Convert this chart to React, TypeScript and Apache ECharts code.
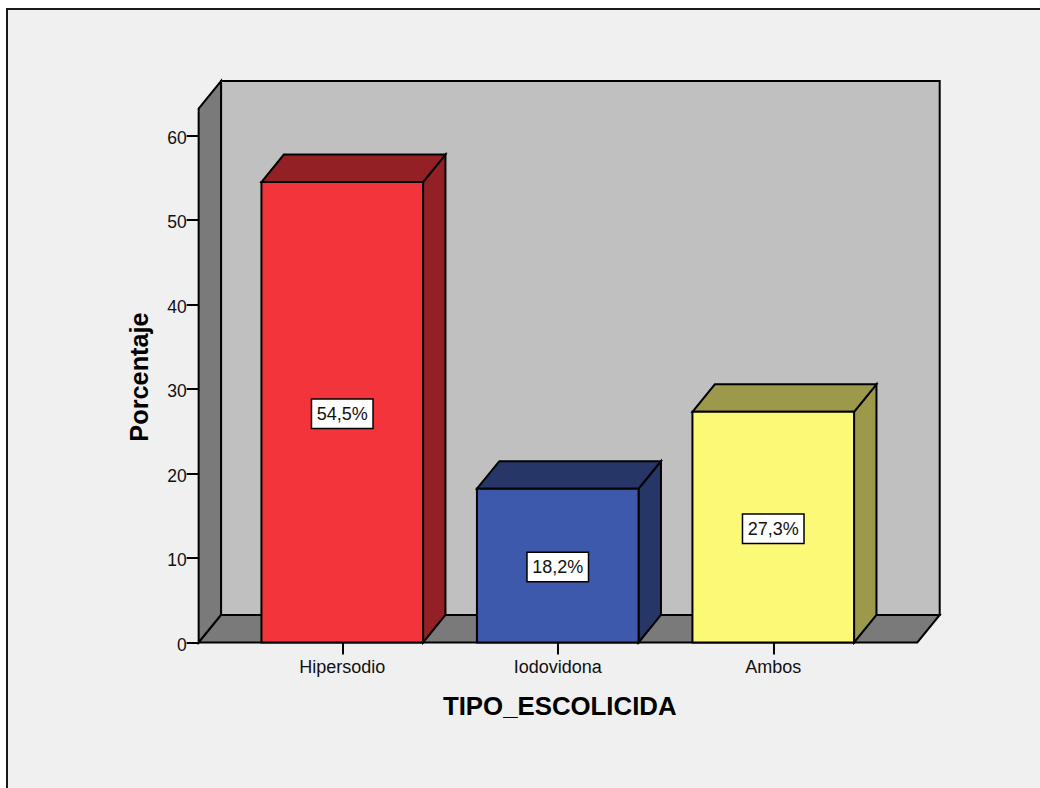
import React, { useEffect, useRef } from "react";
import * as echarts from "echarts";

const categories = ["Hipersodio", "Iodovidona", "Ambos"];
const porcentajes = [54.5, 18.2, 27.3];
const etiquetas = ["54,5%", "18,2%", "27,3%"];
const yTicks = [0, 10, 20, 30, 40, 50, 60];
const frontColors = ["#f3343a", "#3d59ab", "#fcf977"];
const shadeColors = ["#922024", "#253667", "#9c9a4a"];

const FONT = '"Liberation Sans", Arial, sans-serif';
const DX = 22.4;
const DY = 27.5;
const STROKE = "#000000";
const LW = 2;

function renderWalls(params: any, api: any) {
  const cs = params.coordSys;
  const bottom = api.coord([0, 0])[1];
  const top = api.coord([0, 63.2])[1];
  const left = cs.x - 35.85;
  const right = cs.x + cs.width + 36.3;
  const line = { stroke: STROKE, lineWidth: LW, lineJoin: "miter" };
  return {
    type: "group",
    children: [
      {
        type: "polygon",
        shape: { points: [[left + DX, top - DY], [right + DX, top - DY], [right + DX, bottom - DY], [left + DX, bottom - DY]] },
        style: { fill: "#c0c0c0", ...line },
      },
      {
        type: "polygon",
        shape: { points: [[left, bottom], [left + DX, bottom - DY], [left + DX, top - DY], [left, top]] },
        style: { fill: "#7a7a7a", ...line },
      },
      {
        type: "polygon",
        shape: { points: [[left, bottom], [right, bottom], [right + DX, bottom - DY], [left + DX, bottom - DY]] },
        style: { fill: "#7a7a7a", ...line },
      },
    ],
  };
}

function renderBar(params: any, api: any) {
  const i = api.value(0);
  const v = api.value(1);
  const band = api.size([1, 0])[0];
  const w = band * 0.75;
  const [cx, yTop] = api.coord([i, v]);
  const yBase = api.coord([i, 0])[1];
  const yMid = api.coord([i, v / 2])[1];
  const x0 = cx - w / 2;
  const x1 = cx + w / 2;
  const line = { stroke: STROKE, lineWidth: LW, lineJoin: "miter" };
  return {
    type: "group",
    children: [
      {
        type: "polygon",
        shape: { points: [[x1, yBase], [x1 + DX, yBase - DY], [x1 + DX, yTop - DY], [x1, yTop]] },
        style: { fill: shadeColors[i], ...line },
      },
      {
        type: "polygon",
        shape: { points: [[x0, yTop], [x0 + DX, yTop - DY], [x1 + DX, yTop - DY], [x1, yTop]] },
        style: { fill: shadeColors[i], ...line },
      },
      {
        type: "polygon",
        shape: { points: [[x0, yBase], [x1, yBase], [x1, yTop], [x0, yTop]] },
        style: { fill: frontColors[i], ...line },
      },
      {
        type: "text",
        x: cx,
        y: yMid + 1.5,
        style: {
          text: etiquetas[i],
          x: 0,
          y: 0,
          align: "center",
          verticalAlign: "middle",
          fontFamily: FONT,
          fontSize: 18,
          fill: "#111111",
          backgroundColor: "#ffffff",
          borderColor: "#000000",
          borderWidth: 1.5,
          padding: [5, 4.5, 5, 4.5],
        },
      },
    ],
  };
}

export default function App() {
  const ref = useRef<HTMLDivElement>(null);
  useEffect(() => {
    document.body.style.margin = "0";
    document.body.style.overflow = "hidden";
    const chart = echarts.init(ref.current!, undefined, { renderer: "svg" });
    chart.setOption({
      animation: false,
      backgroundColor: "#ffffff",
      graphic: [
        {
          type: "rect",
          z: -10,
          shape: { x: 7, y: 9, width: 1060, height: 800 },
          style: { fill: "#f0f0f0", stroke: "#1a1a1a", lineWidth: 2 },
        },
      ],
      grid: { left: 234.5, top: 108.5, width: 646.5, height: 534, containLabel: false },
      xAxis: {
        type: "category",
        data: categories,
        boundaryGap: true,
        axisLine: { show: false },
        axisTick: {
          show: true,
          alignWithLabel: true,
          length: 12,
          lineStyle: { color: "#000", width: 2 },
        },
        axisLabel: { margin: 15, fontFamily: FONT, fontSize: 18, color: "#111111" },
        name: "TIPO_ESCOLICIDA",
        nameLocation: "middle",
        nameGap: 50,
        nameTextStyle: { fontFamily: FONT, fontSize: 25.8, fontWeight: "bold", color: "#000", padding: [0, 0, 0, 4] },
      },
      yAxis: {
        type: "value",
        min: 0,
        max: 63.2,
        interval: 10,
        offset: 35.85,
        splitLine: { show: false },
        axisLine: { show: true, lineStyle: { color: "#000", width: 2 } },
        axisTick: {
          show: true,
          length: 12,
          customValues: yTicks,
          lineStyle: { color: "#000", width: 2 },
        },
        axisLabel: {
          margin: 12,
          customValues: yTicks,
          formatter: "{v|{value}}",
          rich: {
            v: {
              fontFamily: FONT,
              fontSize: 17.5,
              color: "#111111",
              padding: [4, 0, 0, 0],
            },
          },
        },
        name: "Porcentaje",
        nameLocation: "middle",
        nameGap: 47,
        nameRotate: 90,
        nameTextStyle: { fontFamily: FONT, fontSize: 25.3, fontWeight: "bold", color: "#000", padding: [0, 3, 0, 0] },
      },
      series: [
        {
          type: "custom",
          z: 1,
          silent: true,
          clip: false,
          renderItem: renderWalls,
          data: [[0, 0]],
          encode: { x: 0, y: 1 },
        },
        {
          type: "custom",
          z: 3,
          silent: true,
          clip: false,
          renderItem: renderBar,
          data: porcentajes.map((v, i) => [i, v]),
          encode: { x: 0, y: 1 },
        },
      ],
    });
    return () => chart.dispose();
  }, []);
  return (
    <div
      ref={ref}
      style={{ position: "absolute", left: 0, top: 0, width: 1040, height: 788 }}
    />
  );
}
